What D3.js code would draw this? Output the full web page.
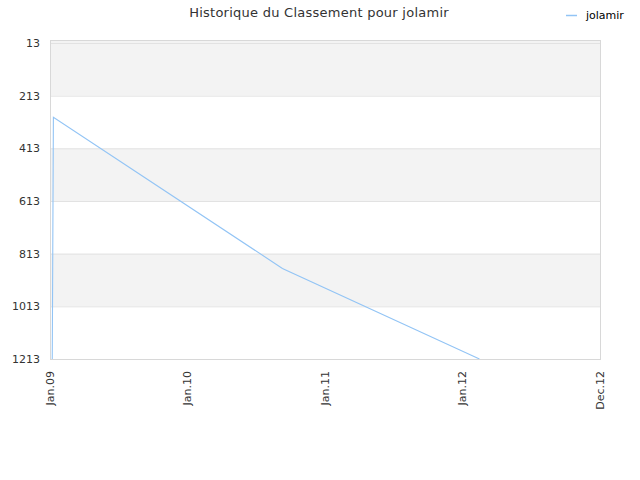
<!DOCTYPE html>
<html>
<head>
<meta charset="utf-8">
<script src="https://cdn.jsdelivr.net/npm/d3@7"></script>
<style>
  body { margin: 0; background: #fff; }
  text { font-family: "DejaVu Sans", sans-serif; }
</style>
</head>
<body>
<script>
var title = 'Historique du Classement pour jolamir'
var seriesName = 'jolamir'

// rank history
var dates = ['2009-01-07', '2009-01-10', '2010-09-10', '2012-02-15']
var ranks = [1213, 295, 869, 1213]

var yTicks = [13, 213, 413, 613, 813, 1013, 1213]
var xTicks = ['2009-01-01', '2010-01-01', '2011-01-01', '2012-01-01', '2012-12-31']

var parse = d3.timeParse('%Y-%m-%d')
var data = dates.map((d, i) => ({date: parse(d), rank: ranks[i]}))

var width = 640, height = 480
var margin = {left: 50, right: 40, top: 43, bottom: 121}

var svg = d3.select('body').append('svg')
  .attr('width', width).attr('height', height)

var x = d3.scaleTime()
  .domain([parse(xTicks[0]), parse(xTicks[xTicks.length - 1])])
  .range([margin.left, width - margin.right])

var y = d3.scaleLinear()
  .domain([13, 1213])
  .range([margin.top, height - margin.bottom])

var plotTop = margin.top - 3
var plotBottom = y(1213)

// alternating bands
for (var i = 0; i < yTicks.length - 1; i++){
  var y0 = i == 0 ? plotTop : y(yTicks[i])
  svg.append('rect')
    .attr('x', x.range()[0]).attr('y', y0)
    .attr('width', x.range()[1] - x.range()[0])
    .attr('height', y(yTicks[i + 1]) - y0)
    .attr('fill', i % 2 == 0 ? '#f3f3f3' : '#fff')
}

// grid
svg.append('g').selectAll('line').data(yTicks).join('line')
  .attr('x1', x.range()[0]).attr('x2', x.range()[1])
  .attr('y1', d => y(d) + .5).attr('y2', d => y(d) + .5)
  .attr('stroke', '#e2e2e2')

// border
svg.append('rect')
  .attr('x', x.range()[0] + .5).attr('y', plotTop + .5)
  .attr('width', x.range()[1] - x.range()[0])
  .attr('height', plotBottom - plotTop)
  .attr('fill', 'none').attr('stroke', '#d8d8d8')

// y labels
svg.append('g').selectAll('text').data(yTicks).join('text')
  .attr('x', margin.left - 10).attr('y', d => y(d))
  .attr('dy', '.35em')
  .attr('text-anchor', 'end')
  .attr('font-size', 11).attr('fill', '#333')
  .text(d => d)

// x labels
var fmt = d3.timeFormat('%b.%y')
svg.append('g').selectAll('text').data(xTicks.map(parse)).join('text')
  .attr('transform', d => `translate(${x(d)},${plotBottom + 12}) rotate(-90)`)
  .attr('dy', '.35em')
  .attr('text-anchor', 'end')
  .attr('font-size', 11).attr('fill', '#333')
  .text(d => fmt(d))

// line
svg.append('defs').append('clipPath').attr('id', 'clip')
  .append('rect')
  .attr('x', x.range()[0]).attr('y', plotTop)
  .attr('width', x.range()[1] - x.range()[0])
  .attr('height', plotBottom - plotTop)

svg.append('path')
  .datum(data)
  .attr('clip-path', 'url(#clip)')
  .attr('d', d3.line().x(d => x(d.date)).y(d => y(d.rank)))
  .attr('fill', 'none')
  .attr('stroke', '#92c4f5')
  .attr('stroke-width', 1.1)

// title
svg.append('text')
  .attr('x', 319).attr('y', 17)
  .attr('text-anchor', 'middle')
  .attr('font-size', 13).attr('letter-spacing', .25).attr('fill', '#333')
  .text(title)

// legend
svg.append('line')
  .attr('x1', 566).attr('x2', 577).attr('y1', 15.5).attr('y2', 15.5)
  .attr('stroke', '#92c4f5').attr('stroke-width', 1.5)
svg.append('text')
  .attr('x', 586).attr('y', 15)
  .attr('dy', '.35em')
  .attr('font-size', 11).attr('fill', '#000')
  .text(seriesName)
</script>
</body>
</html>
